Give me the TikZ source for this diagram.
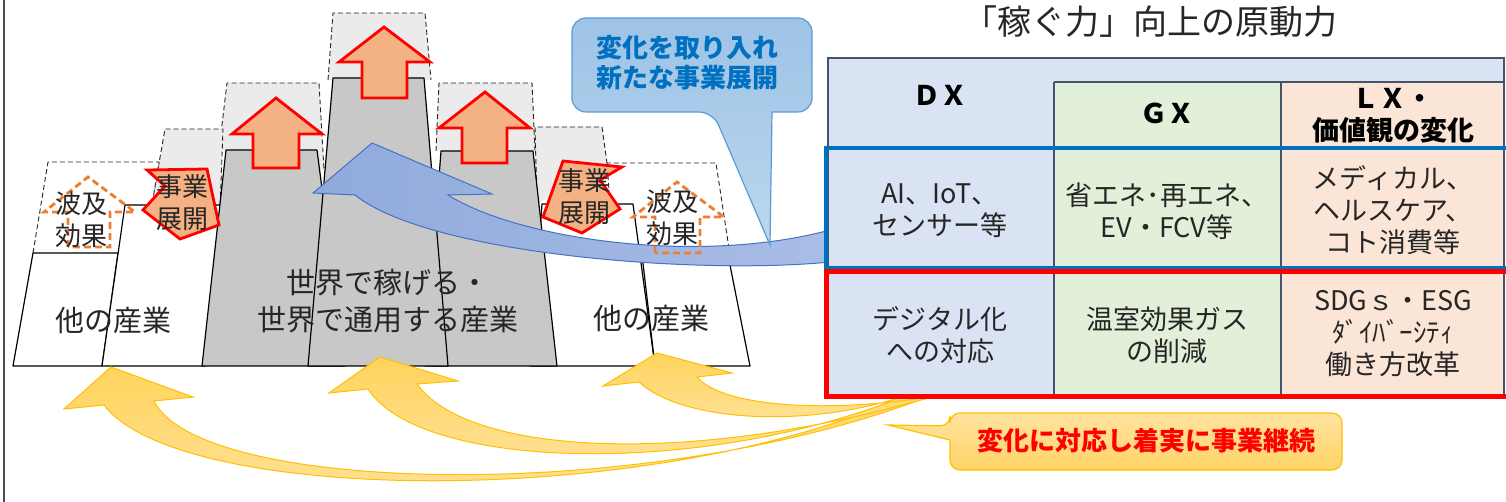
\documentclass[tikz,border=0pt]{standalone}
\usepackage{fontspec}
\setmainfont{Noto Sans CJK JP}
\usetikzlibrary{calc}
\definecolor{bldgray}{HTML}{C8C8C8}
\definecolor{frmgray}{HTML}{EBEBEB}
\definecolor{arrfill}{HTML}{F4B183}
\definecolor{orng}{HTML}{ED7D31}
\definecolor{dxcol}{HTML}{DAE3F3}
\definecolor{gxcol}{HTML}{E2F0D9}
\definecolor{lxcol}{HTML}{FBE5D6}
\definecolor{gridc}{HTML}{44546A}
\definecolor{tblblue}{HTML}{0070C0}
\definecolor{txtgray}{HTML}{262626}
\definecolor{yelline}{HTML}{FFC000}
\definecolor{yeltop}{HTML}{FFD35C}
\definecolor{yelbot}{HTML}{FFE39E}
\definecolor{bluestroke}{HTML}{4472C4}
\definecolor{bluel}{HTML}{8FAADC}
\definecolor{bluer}{HTML}{A9BDE6}
\definecolor{cbstroke}{HTML}{5B9BD5}
\definecolor{cbtop}{HTML}{9DC3E6}
\definecolor{cbbot}{HTML}{BDD7EE}
\definecolor{cbblue}{HTML}{0070C0}
\definecolor{octop}{HTML}{FFE3A0}
\definecolor{ocbot}{HTML}{FFD466}
\newcommand\frameshape[5]{%
  \fill[#1] #2 -- #3 -- #4 -- #5 -- cycle;
  \draw[frm] #2 -- #3 -- #4 -- #5;%
}
\begin{document}
\begin{tikzpicture}[x=0.5pt,y=-0.5pt,
  bldg/.style={draw=black,line width=0.6pt,line join=round},
  frm/.style={draw=black!85,line width=0.45pt,dash pattern=on 2.5pt off 1.5pt},
  uparr/.style={draw=red,fill=arrfill,line width=1.4pt},
  house/.style={draw=orng,line width=1.4pt,dash pattern=on 3.5pt off 2pt},
  lbl/.style={font=\fontsize{13}{16}\selectfont,text=txtgray,align=center,inner sep=0pt},
  ind/.style={font=\fontsize{14.5}{18.5}\selectfont,text=txtgray,align=center,inner sep=0pt},
  cell/.style={font=\fontsize{13.5}{16}\selectfont,text=black!85,align=center,inner sep=0pt},
  hdr/.style={font=\bfseries\fontsize{13.5}{16}\selectfont,text=black,align=center,inner sep=0pt},
  tgrid/.style={draw=gridc,line width=0.9pt},
  yarr/.style={draw=yelline,line width=0.5pt,top color=yeltop,bottom color=yelbot},
  cbtxt/.style={font=\bfseries\fontsize{13}{15}\selectfont,text=cbblue,align=center,inner sep=0pt},
  octxt/.style={font=\bfseries\fontsize{13}{15}\selectfont,text=red,align=center,inner sep=0pt},
  ttl/.style={font=\fontsize{17}{19}\selectfont,text=black!85,inner sep=0pt},
]
\useasboundingbox (0,0) rectangle (1506,502);
\fill[white] (0,0) rectangle (1506,502);
\draw[draw=black!70,line width=0.8pt] (4,0) -- (4,502);

% growth frames
\frameshape{frmgray}{(328,80)}{(333,13)}{(425,13)}{(431,80)}
\frameshape{frmgray}{(219,150)}{(227,83)}{(319,83)}{(324,170)}
\frameshape{frmgray}{(436,151)}{(439,83)}{(532,83)}{(535,151)}
\frameshape{frmgray}{(150,215)}{(165,129)}{(223,129)}{(220,210)}
\frameshape{white}{(33,253)}{(48,162)}{(159,162)}{(152,205)}
\frameshape{frmgray}{(537,204)}{(535,127)}{(602,127)}{(607,163)}
\frameshape{white}{(610,204)}{(607,163)}{(716,163)}{(730,255)}

% buildings
\draw[bldg,fill=white] (13,366) -- (33,253) -- (118,253) -- (102,366) -- cycle;
\draw[bldg,fill=white] (102,366) -- (125,205) -- (228,205) -- (205,366) -- cycle;
\draw[bldg,fill=white] (530,366) -- (542,204) -- (633,204) -- (655,366) -- cycle;
\draw[bldg,fill=white] (655,366) -- (642,255) -- (728,255) -- (750,366) -- cycle;
\draw[bldg,fill=bldgray] (202,366) -- (226,150) -- (317,150) -- (345,366) -- cycle;
\draw[bldg,fill=bldgray] (425,366) -- (441,151) -- (533,151) -- (557,366) -- cycle;
\draw[bldg,fill=bldgray] (308,366) -- (333,78) -- (424,78) -- (448,366) -- cycle;

% blue curved arrow
\path[draw=bluestroke,line width=0.5pt,left color=bluel,right color=bluer]
  (313,193) -- (372,143) -- (492,194) -- (448,195)
  .. controls (520,240) and (700,265) .. (830,230) -- (830,262)
  .. controls (700,275) and (430,255) .. (355,195) -- cycle;

% up arrows
\draw[uparr] (276,98) -- (322,134) -- (299,134) -- (299,168) -- (253,168) -- (253,134) -- (232,134) -- cycle;
\draw[uparr] (384,27) -- (430,62) -- (407,62) -- (407,98) -- (362,98) -- (362,62) -- (339,62) -- cycle;
\draw[uparr] (485,92) -- (530,128) -- (507,128) -- (507,163) -- (462,163) -- (462,128) -- (439,128) -- cycle;

% tilted arrows
\draw[uparr] (147,170) -- (207,169) -- (219,225) -- (180,239) -- (143,210) -- (165,186) -- cycle;
\draw[uparr] (563,161) -- (622,167) -- (600,180) -- (620,209) -- (582,233) -- (543,217) -- cycle;

% dashed houses
\draw[house] (68,247) -- (68,212) -- (44,212) -- (88,177) -- (135,212) -- (110,212) -- (110,247) -- cycle;
\draw[house] (655,253) -- (655,217) -- (633,217) -- (677,182) -- (724,217) -- (700,217) -- (700,253) -- cycle;

% labels
\node[lbl] (ha1) at (81,220) {波及\\効果};
\node[lbl] (ha2) at (672,218) {波及\\効果};
\node[lbl] (jt1) at (182,203) {事業\\展開};
\node[lbl] (jt2) at (584,197) {事業\\展開};
\node[ind] (oth1) at (113,320) {他の産業};
\node[ind] (oth2) at (651,318) {他の産業};
\node[ind] (world) at (388,301) {世界で稼げる・\\世界で通用する産業};

% yellow curved arrows
\path[yarr] (111,367) -- (193,397) -- (154,401)
  .. controls (200,495) and (650,505) .. (930,396) -- (905,396)
  .. controls (650,510) and (180,505) .. (104,405) -- (64,409) -- cycle;
\path[yarr] (380,357) -- (458,381) -- (417,384)
  .. controls (470,458) and (700,465) .. (935,396) -- (905,396)
  .. controls (700,478) and (420,470) .. (368,389) -- (329,393) -- cycle;
\path[yarr] (657,353) -- (732,373) -- (697,377)
  .. controls (720,405) and (820,415) .. (935,396) -- (905,396)
  .. controls (800,430) and (680,420) .. (639,382) -- (603,386) -- cycle;

% blue callout
\path[draw=cbstroke,line width=0.6pt,top color=cbtop,bottom color=cbbot]
  (772,112) [rounded corners=7pt] -- (812,112) -- (812,18) -- (572,18) -- (572,112) -- (713,112)
  [sharp corners] -- (770,245) -- cycle;
\node[cbtxt] (cbt) at (687,63) {変化を取り入れ\\新たな事業展開};

% orange callout
\path[draw=yelline,line width=0.6pt,top color=octop,bottom color=ocbot]
  (950,440) [rounded corners=5pt] -- (950,470) -- (1342,470) -- (1342,413) -- (950,413) -- (950,426)
  [sharp corners] -- (888,425) -- cycle;
\node[octxt] (oct) at (1146,441) {変化に対応し着実に事業継続};

% table
\fill[dxcol] (828,58) rectangle (1504,82);
\fill[dxcol] (828,82) rectangle (1054,395);
\fill[gxcol] (1054,82) rectangle (1281,395);
\fill[lxcol] (1281,82) rectangle (1504,395);
\draw[tgrid] (828,58) rectangle (1504,395);
\draw[tgrid] (1054,82) -- (1504,82);
\draw[tgrid] (1054,82) -- (1054,395);
\draw[tgrid] (1281,82) -- (1281,395);
\draw[tgrid] (828,148) -- (1504,148);
\draw[tgrid] (828,270) -- (1504,270);
\draw[draw=tblblue,line width=2pt] (826,148) rectangle (1510,268);
\draw[draw=red,line width=2.5pt] (826,272) rectangle (1510,397);

\node[hdr] (dx) at (940,95) {ＤＸ};
\node[hdr] (gx) at (1167,113) {ＧＸ};
\node[hdr] (lx) at (1393,116) {ＬＸ・\\価値観の変化};
\node[cell] (dx1) at (940,211) {AI、IoT、\\センサー等};
\node[cell] (gx1) at (1167,211) {省エネ･再エネ、\\EV・FCV等};
\node[cell] (lx1) at (1393,210) {メディカル、\\ヘルスケア、\\コト消費等};
\node[cell] (dx2) at (940,335) {デジタル化\\への対応};
\node[cell] (gx2) at (1167,335) {温室効果ガス\\の削減};
\node[cell] (lx2) at (1393,334) {SDGｓ・ESG\\ﾀﾞｲﾊﾞｰｼﾃｨ\\働き方改革};

\node[ttl] (title) at (1150,22) {「稼ぐ力」向上の原動力};
\end{tikzpicture}
\end{document}
